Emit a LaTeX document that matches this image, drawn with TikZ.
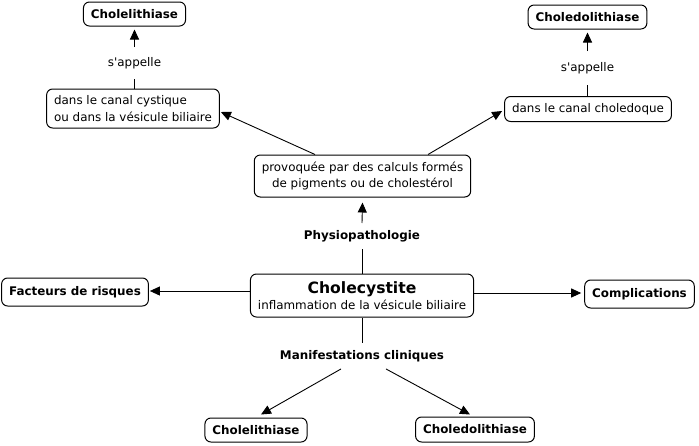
\documentclass[tikz,border=0pt]{standalone}
\usepackage{fontspec}
\setmainfont{DejaVu Sans}[Ligatures=TeXOff]
\usetikzlibrary{arrows.meta}
\newcommand{\mapFont}[0]{\fontsize{11.9}{16.5}\selectfont}
\newcommand{\titleFont}[0]{\fontsize{15.6}{18}\selectfont\bfseries}

\begin{document}
\begin{tikzpicture}[x=1pt, y=-1pt, font=\mapFont]
  \tikzset{concept/.style={draw, rounded corners=6pt, line width=1pt, inner xsep=7.5pt, inner ysep=3pt, minimum height=25pt, align=center},
    term/.style={concept, font=\mapFont\bfseries},
    link/.style={inner xsep=2pt, inner ysep=7pt},
    arc/.style={line width=0.9pt},
    arcto/.style={arc, -{Triangle[width=9pt, length=10pt]}}}
  \useasboundingbox (0,0) rectangle (699,445);
  \node[concept, minimum height=43pt] (chole) at (362,295.5) {{\titleFont Cholecystite}\\[-1pt]inflammation de la vésicule biliaire};
  \node[link, font=\mapFont\bfseries] (physio) at (362,236) {Physiopathologie};
  \node[concept, minimum height=42pt] (calc) at (362.5,176) {provoquée par des calculs formés\\de pigments ou de cholestérol};
  \node[concept, align=left, minimum height=39pt] (canal-1) at (133,108.5) {dans le canal cystique\\ou dans la vésicule biliaire};
  \node[concept] (canal-2) at (588,109) {dans le canal choledoque};
  \node[link, inner ysep=10pt] (nom-1) at (134.5,63) {s'appelle};
  \node[link, inner ysep=11pt] (nom-2) at (587.5,68) {s'appelle};
  \node[term, minimum height=24pt] (lith-1) at (134.5,14) {Cholelithiase};
  \node[term, minimum height=24pt] (lith-2) at (587.5,17) {Choledolithiase};
  \node[term, minimum height=28pt] (risk) at (75,292) {Facteurs de risques};
  \node[term, minimum height=28pt] (compl) at (639.5,294) {Complications};
  \node[link, font=\mapFont\bfseries] (manif) at (362,356) {Manifestations cliniques};
  \node[term, minimum height=24pt] (lith-3) at (256,430) {Cholelithiase};
  \node[term, minimum height=25pt] (lith-4) at (475,429.5) {Choledolithiase};
  \draw[arc] (chole.north) -- (physio.south);
  \draw[arcto] (physio.north) -- ([yshift=-5pt]calc.south);
  \draw[arcto] ([xshift=-47.5pt]calc.north) -- ([xshift=1pt, yshift=-3.5pt]canal-1.east);
  \draw[arcto] ([xshift=65.5pt]calc.north) -- ([xshift=-2pt, yshift=-2pt]canal-2.west);
  \draw[arc] (nom-1 |- canal-1.north) -- (nom-1.south);
  \draw[arcto] (nom-1.north) -- ([yshift=-3pt]lith-1.south);
  \draw[arc] (nom-2 |- canal-2.north) -- (nom-2.south);
  \draw[arcto] (nom-2.north) -- ([yshift=-3pt]lith-2.south);
  \draw[arcto] (chole.west |- 0,291) -- ([xshift=1pt]risk.east |- 0,291);
  \draw[arcto] (chole.east |- 0,293) -- ([xshift=-3pt]compl.west |- 0,293);
  \draw[arc] (chole.south) -- (manif.north);
  \draw[arcto] ([xshift=-21pt]manif.south) -- ([xshift=5pt, yshift=3pt]lith-3.north);
  \draw[arcto] ([xshift=24pt]manif.south) -- ([xshift=-5pt, yshift=2pt]lith-4.north);
\end{tikzpicture}
\end{document}
